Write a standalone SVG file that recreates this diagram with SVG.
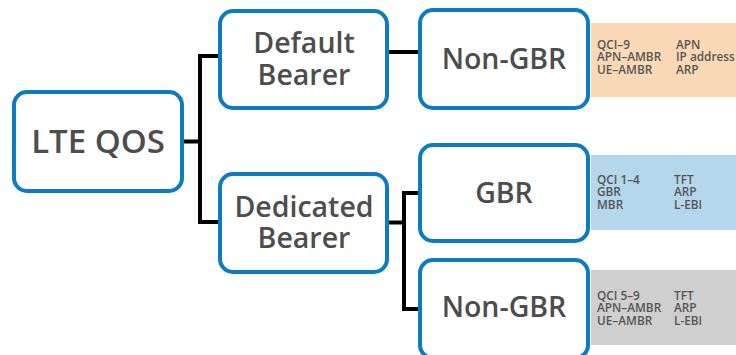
<svg xmlns="http://www.w3.org/2000/svg" width="736" height="355" viewBox="0 0 736 355">
<style>
.node{fill:#fff;stroke:#0b7cc1;stroke-width:4}
.lbl{font-family:"Open Sans","Liberation Sans",sans-serif;font-weight:600;fill:#4d4d4d;text-anchor:middle}
.big{font-size:33px}
.mid{font-size:28.5px}
.info{font-family:"Open Sans","Liberation Sans",sans-serif;font-weight:600;font-size:11.8px;fill:#555}
.conn{fill:none;stroke:#000;stroke-width:4}
</style>
<rect width="736" height="355" fill="#fff"/>
<g id="panels">
<rect x="591" y="23" width="145" height="74" fill="#fbd9b6"/>
<rect x="591" y="155" width="145" height="75" fill="#b5d7ec"/>
<rect x="591" y="270" width="145" height="75" fill="#cfcfcf"/>
</g>
<g id="connectors" class="conn">
<path d="M183 141.5H200M218 56H200V222H218"/>
<path d="M389 52H418"/>
<path d="M389 222.5H404M418 193H404V309H418"/>
</g>
<g id="lte"><rect class="node" x="14" y="92" width="168" height="99" rx="13"/><text class="lbl big" x="98" y="153">LTE QOS</text></g>
<g id="default"><rect class="node" x="220" y="11" width="167" height="97" rx="13"/><text class="lbl mid" x="304" y="53">Default</text><text class="lbl mid" x="304" y="85">Bearer</text></g>
<g id="dedicated"><rect class="node" x="220" y="174" width="167" height="98" rx="13"/><text class="lbl mid" x="304" y="217">Dedicated</text><text class="lbl mid" x="304" y="248">Bearer</text></g>
<g id="nongbr1"><rect class="node" x="420" y="10" width="168" height="98" rx="13"/><text class="lbl mid" x="504" y="69">Non-GBR</text></g>
<g id="gbr"><rect class="node" x="420" y="145" width="168" height="96" rx="13"/><text class="lbl mid" x="504" y="203">GBR</text></g>
<g id="nongbr2"><rect class="node" x="420" y="260" width="168" height="98" rx="13"/><text class="lbl mid" x="504" y="317">Non-GBR</text></g>
<g id="info1" class="info">
<text x="597" y="49">QCI–9</text><text x="597" y="61">APN–AMBR</text><text x="597" y="73.5">UE–AMBR</text>
<text x="676" y="49">APN</text><text x="676" y="61">IP address</text><text x="676" y="73.5">ARP</text>
</g>
<g id="info2" class="info">
<text x="597" y="183.5">QCI 1–4</text><text x="597" y="196">GBR</text><text x="597" y="208.5">MBR</text>
<text x="674" y="183.5">TFT</text><text x="674" y="196">ARP</text><text x="674" y="208.5">L-EBI</text>
</g>
<g id="info3" class="info">
<text x="597" y="299.5">QCI 5–9</text><text x="597" y="312">APN–AMBR</text><text x="597" y="324.5">UE–AMBR</text>
<text x="674" y="299.5">TFT</text><text x="674" y="312">ARP</text><text x="674" y="324.5">L-EBI</text>
</g>
</svg>
